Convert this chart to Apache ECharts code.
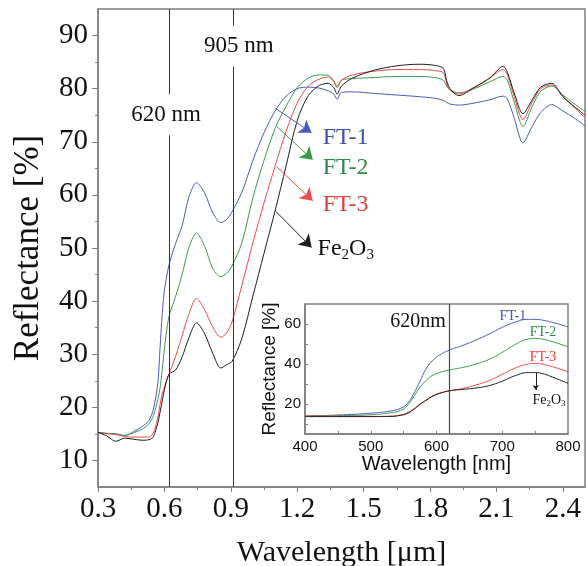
<!DOCTYPE html>
<html>
<head>
<meta charset="utf-8">
<script src="https://cdn.jsdelivr.net/npm/echarts@6/dist/echarts.min.js"></script>
<style>
  html, body { margin: 0; padding: 0; background: #fff; }
  #chart { width: 587px; height: 566px; }
</style>
</head>
<body>
<div id="chart"></div>
<script>
// main spectra, wavelength in um
const mainX = [0.30, 0.34, 0.38, 0.42, 0.46, 0.50, 0.53, 0.55, 0.57, 0.58, 0.59, 0.60, 0.62, 0.65, 0.68, 0.71, 0.745, 0.78, 0.82, 0.855, 0.88, 0.905,
  0.95, 1.00, 1.05, 1.10, 1.15, 1.20, 1.25, 1.30, 1.34, 1.365, 1.38, 1.40, 1.45, 1.55, 1.65, 1.75, 1.82, 1.86, 1.875, 1.89, 1.93,
  2.00, 2.07, 2.13, 2.15, 2.18, 2.22, 2.26, 2.30, 2.35, 2.40, 2.45, 2.50];
const ft1 = [15.3, 15.1, 15.0, 14.7, 15.4, 16.4, 17.5, 19.6, 24.5, 31.0, 37.5, 42.0, 46.7, 50.8, 54.2, 59.5, 62.3, 60.5, 56.5, 54.8, 55.3, 56.8,
  60.5, 66.5, 71.7, 75.8, 78.6, 80.0, 80.3, 80.1, 79.6, 79.0, 78.0, 79.3, 79.4, 79.1, 78.8, 78.5, 78.2, 77.8, 77.4, 77.1, 76.9,
  77.3, 77.9, 78.6, 78.0, 74.5, 69.8, 72.8, 75.5, 77.0, 75.8, 74.5, 73.0];
const ft2 = [15.3, 15.1, 15.0, 14.7, 15.2, 15.9, 16.9, 18.4, 21.5, 23.5, 27.0, 31.0, 37.0, 40.8, 45.0, 50.0, 52.8, 50.5, 46.0, 44.6, 45.2, 46.6,
  51.0, 59.5, 66.5, 72.5, 76.7, 80.2, 82.0, 82.6, 82.5, 81.5, 80.5, 81.6, 81.9, 82.1, 82.3, 82.3, 82.1, 81.6, 80.5, 79.8, 79.2,
  80.0, 81.3, 82.3, 81.5, 77.5, 72.9, 76.5, 79.5, 80.5, 78.8, 77.2, 75.7];
const ft3 = [15.2, 15.0, 14.9, 14.5, 14.4, 14.4, 14.4, 15.2, 18.0, 20.5, 22.5, 23.8, 26.2, 29.5, 33.5, 37.5, 40.5, 38.5, 35.0, 33.2, 34.0, 36.0,
  43.0, 51.0, 58.5, 65.4, 72.0, 77.3, 80.5, 81.8, 82.2, 81.3, 80.2, 81.6, 82.6, 83.3, 83.6, 83.6, 83.4, 83.0, 81.0, 79.7, 79.0,
  80.3, 82.0, 83.6, 82.5, 78.5, 74.2, 77.3, 80.0, 80.7, 78.5, 76.5, 74.5];
const fe2o3 = [15.3, 14.6, 13.6, 14.2, 14.0, 13.8, 13.9, 14.5, 17.0, 19.0, 21.2, 23.3, 26.2, 27.0, 29.5, 33.0, 35.9, 34.0, 30.0, 27.4, 28.0, 28.6,
  33.0, 41.0, 49.0, 57.0, 65.5, 74.0, 78.7, 80.6, 81.0, 80.2, 79.0, 80.5, 82.0, 83.5, 84.3, 84.6, 84.4, 83.8, 81.5, 80.0, 78.7,
  80.2, 82.0, 84.2, 83.0, 79.2, 75.3, 77.8, 80.3, 81.0, 78.5, 76.7, 75.0];

// inset, wavelength in nm
const insetX = [400, 450, 500, 530, 545, 555, 565, 575, 585, 595, 605, 620, 640, 660, 680, 700, 720, 740, 750, 760, 780, 800];
const insetFt1 = [14.0, 14.5, 15.4, 16.5, 17.8, 20.0, 25.0, 31.5, 38.0, 42.0, 44.5, 47.0, 49.3, 52.0, 55.0, 58.3, 61.0, 62.3, 62.3, 62.0, 60.5, 58.5];
const insetFt2 = [14.0, 14.2, 14.6, 15.6, 16.8, 19.0, 23.5, 28.5, 32.0, 34.5, 35.8, 37.0, 38.3, 40.0, 42.3, 45.8, 49.8, 52.5, 52.8, 52.5, 50.8, 48.5];
const insetFt3 = [14.0, 13.9, 13.8, 13.9, 14.5, 15.5, 17.5, 20.0, 22.2, 24.2, 25.5, 26.6, 27.8, 29.5, 31.7, 34.8, 38.0, 40.0, 40.3, 40.0, 38.3, 36.1];
const insetFe = [13.7, 13.7, 13.7, 13.8, 14.3, 15.2, 17.2, 19.8, 22.0, 24.0, 25.3, 26.6, 27.3, 28.0, 29.2, 31.4, 34.2, 35.7, 35.7, 35.3, 33.0, 30.3];

// ticks
const mainXLabels = [0.3, 0.6, 0.9, 1.2, 1.5, 1.8, 2.1, 2.4];
const mainXMinor = [0.45, 0.75, 1.05, 1.35, 1.65, 1.95, 2.25];
const mainYLabels = [10, 20, 30, 40, 50, 60, 70, 80, 90];
const mainYMinor = [15, 25, 35, 45, 55, 65, 75, 85];
const insetXLabels = [400, 500, 600, 700, 800];
const insetXTicks = [450, 500, 550, 600, 650, 700, 750];
const insetYLabels = [20, 40, 60];
const insetYTicks = [10, 20, 30, 40, 50, 60];

const C1 = '#4a5bbf', C2 = '#3c9a4e', C3 = '#f24a4a', C4 = '#1e1e1e';
const serif = 'Liberation Serif';
const sans = 'Liberation Sans';
const frame = '#7f7f7f';

function pairs(xs, ys) {
  return xs.map((x, i) => [x, ys[i]]);
}

function arrow(from, to, color, size) {
  return {
    silent: true, symbol: ['none', 'arrow'], symbolSize: size,
    lineStyle: { color: color, width: 1, type: 'solid' },
    label: { show: false },
    data: [[{ coord: from }, { coord: to }]]
  };
}

function textMark(coord, text, style, pos) {
  return {
    silent: true, symbol: 'circle', symbolSize: 0,
    data: [{ coord: coord }],
    label: Object.assign({ show: true, position: pos || 'right', distance: 0, formatter: text }, style)
  };
}

const feRich = (big, small, color) => ({
  a: { fontFamily: serif, fontSize: big, color: color },
  s: { fontFamily: serif, fontSize: small, color: color, padding: [Math.round(big * 0.5), 0, 0, 0] }
});

// extra axis that only draws short minor ticks
function minorAxis(dim, ticks, min, max) {
  return {
    type: 'value', gridIndex: 0, min: min, max: max, position: dim === 'x' ? 'bottom' : 'left', offset: 0,
    axisLine: { show: false }, axisLabel: { show: false }, splitLine: { show: false },
    axisTick: { length: 3, customValues: ticks, lineStyle: { color: frame } }
  };
}

const chart = echarts.init(document.getElementById('chart'));
chart.setOption({
  animation: false,
  backgroundColor: '#fff',
  grid: [
    { left: 98, top: 9, right: 2, bottom: 79, outerBoundsMode: 'none', containLabel: false,
      show: true, borderColor: frame, borderWidth: 1.5 },
    { left: 305, top: 304, width: 263, height: 130, outerBoundsMode: 'none', containLabel: false,
      show: true, backgroundColor: '#fff', borderColor: frame, borderWidth: 1.5, z: 5 }
  ],
  xAxis: [
    {
      type: 'value', gridIndex: 0, min: 0.3, max: 2.5, position: 'bottom',
      name: 'Wavelength [\u03bcm]', nameLocation: 'middle', nameGap: 51,
      nameTextStyle: { fontFamily: serif, fontSize: 30, color: '#111' },
      axisLine: { lineStyle: { color: frame, width: 1.5 } },
      axisTick: { length: 5, customValues: mainXLabels, lineStyle: { color: frame } },
      axisLabel: { customValues: mainXLabels, margin: 8, fontFamily: serif, fontSize: 29, color: '#111', formatter: v => v.toFixed(1) },
      splitLine: { show: false }
    },
    {
      type: 'value', gridIndex: 1, min: 400, max: 800,
      name: 'Wavelength [nm]', nameLocation: 'middle', nameGap: 20,
      nameTextStyle: { fontFamily: sans, fontSize: 20, color: '#111' },
      axisLine: { lineStyle: { color: frame, width: 1.5 } },
      axisTick: { inside: true, length: 3, customValues: insetXTicks, lineStyle: { color: frame } },
      axisLabel: { customValues: insetXLabels, margin: 5, fontFamily: sans, fontSize: 15, color: '#111' },
      splitLine: { show: false }, z: 6
    },
    minorAxis('x', mainXMinor, 0.3, 2.5)
  ],
  yAxis: [
    {
      type: 'value', gridIndex: 0, min: 5, max: 95, position: 'left',
      name: 'Reflectance [%]', nameLocation: 'middle', nameGap: 52,
      nameTextStyle: { fontFamily: serif, fontSize: 35, color: '#111' },
      axisLine: { lineStyle: { color: frame, width: 1.5 } },
      axisTick: { length: 6, customValues: mainYLabels, lineStyle: { color: frame } },
      axisLabel: { customValues: mainYLabels, margin: 10, fontFamily: serif, fontSize: 29, color: '#111' },
      splitLine: { show: false }
    },
    {
      type: 'value', gridIndex: 1, min: 5, max: 70,
      name: 'Reflectance [%]', nameLocation: 'middle', nameGap: 26,
      nameTextStyle: { fontFamily: sans, fontSize: 19, color: '#111' },
      axisLine: { lineStyle: { color: frame, width: 1.5 } },
      axisTick: { inside: true, length: 3, customValues: insetYTicks, lineStyle: { color: frame } },
      axisLabel: { customValues: insetYLabels, margin: 4, fontFamily: sans, fontSize: 15, color: '#111' },
      splitLine: { show: false }, z: 6
    },
    minorAxis('y', mainYMinor, 5, 95)
  ],
  series: [
    {
      type: 'line', name: 'FT-1', xAxisIndex: 0, yAxisIndex: 0, data: pairs(mainX, ft1),
      showSymbol: false, smooth: 0.3, lineStyle: { color: C1, width: 1 }, itemStyle: { color: C1 },
      markLine: arrow([1.098, 76.4], [1.265, 71.7], C1, 12),
      markPoint: textMark([1.315, 70.8], 'FT-1', { fontFamily: serif, fontSize: 24, color: '#3d52b3' })
    },
    {
      type: 'line', name: 'FT-2', xAxisIndex: 0, yAxisIndex: 0, data: pairs(mainX, ft2),
      showSymbol: false, smooth: 0.3, lineStyle: { color: C2, width: 1 }, itemStyle: { color: C2 },
      markLine: arrow([1.107, 72.9], [1.27, 66.6], C2, 12),
      markPoint: textMark([1.315, 65.1], 'FT-2', { fontFamily: serif, fontSize: 24, color: '#2e8b45' })
    },
    {
      type: 'line', name: 'FT-3', xAxisIndex: 0, yAxisIndex: 0, data: pairs(mainX, ft3),
      showSymbol: false, smooth: 0.3, lineStyle: { color: C3, width: 1 }, itemStyle: { color: C3 },
      markLine: arrow([1.107, 65.3], [1.27, 58.9], C3, 12),
      markPoint: textMark([1.315, 58.2], 'FT-3', { fontFamily: serif, fontSize: 24, color: '#ea3b3b' })
    },
    {
      type: 'line', name: 'Fe2O3', xAxisIndex: 0, yAxisIndex: 0, data: pairs(mainX, fe2o3),
      showSymbol: false, smooth: 0.3, lineStyle: { color: C4, width: 1 }, itemStyle: { color: C4 },
      markLine: arrow([1.103, 56.9], [1.265, 50.1], C4, 12),
      markPoint: textMark([1.292, 49.8], '{a|Fe}{s|2}{a|O}{s|3}', { rich: feRich(24, 15, '#111') })
    },
    {
      // reference wavelengths
      type: 'line', xAxisIndex: 0, yAxisIndex: 0, data: [], silent: true,
      markLine: {
        silent: true, symbol: 'none', label: { show: false },
        lineStyle: { color: '#333', width: 1, type: 'solid' },
        data: [{ xAxis: 0.62 }, { xAxis: 0.905 }]
      },
      markPoint: {
        silent: true, symbol: 'circle', symbolSize: 0,
        label: { show: true, position: 'inside', fontFamily: serif, fontSize: 23, color: '#111', backgroundColor: '#fff', padding: [9, 2] },
        data: [
          { coord: [0.607, 75.1], label: { formatter: '620 nm' } },
          { coord: [0.936, 88.0], label: { formatter: '905 nm' } }
        ]
      }
    },
    {
      type: 'line', xAxisIndex: 1, yAxisIndex: 1, data: pairs(insetX, insetFt1), z: 7,
      showSymbol: false, smooth: true, lineStyle: { color: C1, width: 1 }, itemStyle: { color: C1 },
      markPoint: textMark([716, 64], 'FT-1', { fontFamily: serif, fontSize: 14, color: '#3d52b3' }, 'inside')
    },
    {
      type: 'line', xAxisIndex: 1, yAxisIndex: 1, data: pairs(insetX, insetFt2), z: 7,
      showSymbol: false, smooth: true, lineStyle: { color: C2, width: 1 }, itemStyle: { color: C2 },
      markPoint: textMark([762, 56], 'FT-2', { fontFamily: serif, fontSize: 14, color: '#2e8b45' }, 'inside')
    },
    {
      type: 'line', xAxisIndex: 1, yAxisIndex: 1, data: pairs(insetX, insetFt3), z: 7,
      showSymbol: false, smooth: true, lineStyle: { color: C3, width: 1 }, itemStyle: { color: C3 },
      markPoint: textMark([762, 43.5], 'FT-3', { fontFamily: serif, fontSize: 14, color: '#ea3b3b' }, 'inside')
    },
    {
      type: 'line', xAxisIndex: 1, yAxisIndex: 1, data: pairs(insetX, insetFe), z: 7,
      showSymbol: false, smooth: true, lineStyle: { color: C4, width: 1 }, itemStyle: { color: C4 },
      markLine: arrow([751, 35.5], [751, 27], C4, 5),
      markPoint: textMark([771, 22], '{a|Fe}{s|2}{a|O}{s|3}', { rich: feRich(14, 9, '#111') }, 'inside')
    },
    {
      type: 'line', xAxisIndex: 1, yAxisIndex: 1, data: [], silent: true, z: 7,
      markLine: {
        silent: true, symbol: 'none', label: { show: false },
        lineStyle: { color: '#444', width: 1.2, type: 'solid' },
        data: [{ xAxis: 620 }]
      },
      markPoint: textMark([572, 61], '620nm', { fontFamily: serif, fontSize: 20, color: '#111' }, 'inside')
    }
  ]
});
</script>
</body>
</html>
